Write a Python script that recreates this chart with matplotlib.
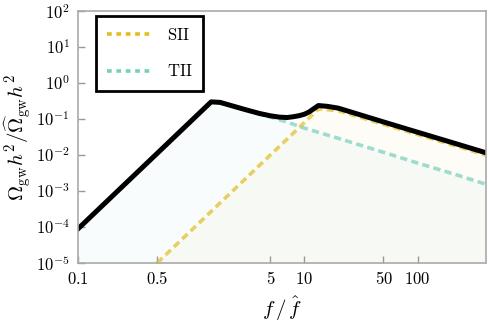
import matplotlib
matplotlib.use("Agg")
import matplotlib.pyplot as plt
from matplotlib.lines import Line2D

plt.rcParams['mathtext.fontset'] = 'cm'
plt.rcParams['font.family'] = 'serif'
plt.rcParams['font.serif'] = ['DejaVu Serif']

# values (f / f_hat, Omega h^2 normalised)
f_tii = [0.1, 0.5, 1.0, 1.5, 1.8, 3, 5, 7, 10, 20, 50, 100, 200, 400]
tii = [8.9e-5, 0.0111, 0.089, 0.30, 0.29, 0.181, 0.113, 0.083, 0.056,
       0.029, 0.0119, 0.006, 0.0031, 0.00155]

f_sii = [0.5, 1.0, 1.5, 3, 5, 7, 10, 13.3, 20, 50, 100, 200, 400]
sii = [1e-5, 8e-5, 2.7e-4, 2.16e-3, 0.01, 0.0274, 0.08, 0.19, 0.17,
       0.071, 0.0372, 0.0193, 0.01]

f_tot = [0.1, 0.5, 1.0, 1.5, 1.8, 3, 4, 5, 6, 7, 8, 9, 10, 11, 12, 13.3,
         16, 20, 50, 100, 200, 400]
tot = [8.9e-5, 0.0111, 0.089, 0.30, 0.29, 0.183, 0.143, 0.123, 0.113,
       0.11, 0.116, 0.124, 0.136, 0.157, 0.19, 0.237, 0.225, 0.2,
       0.083, 0.043, 0.0224, 0.0116]

xticks = [0.1, 0.5, 5, 10, 50, 100]
xtick_labels = ['$0.1$', '$0.5$', '$5$', '$10$', '$50$', '$100$']
yticks = [1e-5, 1e-4, 1e-3, 1e-2, 1e-1, 1e0, 1e1, 1e2]
ytick_labels = ['$10^{%d}$' % e for e in range(-5, 3)]

yellow = '#e3bd1f'
teal = '#78cfbd'

fig = plt.figure(figsize=(4.88, 3.27), dpi=100)
ax = fig.add_axes([0.16, 0.196, 0.836, 0.770])

ax.fill_between(f_tii, 1e-6, tii, color='#d9eef7', alpha=0.16, lw=0)
ax.fill_between(f_sii, 1e-6, sii, color='#f0e6b0', alpha=0.10, lw=0)

ax.plot(f_sii, sii, color=yellow, lw=2.6, alpha=0.7, dashes=(2, 1.2))
ax.plot(f_tii, tii, color=teal, lw=2.6, alpha=0.7, dashes=(2, 1.2))
ax.plot(f_tot, tot, color='black', lw=3.6, solid_joinstyle='round')

ax.set_xscale('log')
ax.set_yscale('log')
ax.set_xlim(0.1, 403)
ax.set_ylim(1e-5, 1e2)

ax.set_xticks(xticks)
ax.set_xticklabels(xtick_labels)
ax.set_yticks(yticks)
ax.set_yticklabels(ytick_labels)
ax.minorticks_off()
ax.tick_params(direction='in', length=5, width=1, color='#999999',
               labelsize=12, pad=6)
for s in ax.spines.values():
    s.set_color('#aaaaaa')
    s.set_linewidth(1.2)

ax.set_xlabel(r'$f\,/\,\hat{f}$', fontsize=15, labelpad=4)
ax.set_ylabel(r'$\Omega_{\rm gw}h^2/\widehat{\Omega}_{\rm gw}h^2$',
              fontsize=15, labelpad=2)

handles = [Line2D([], [], color=yellow, lw=2.6, dashes=(1.3, 1.3)),
           Line2D([], [], color=teal, lw=2.6, dashes=(1.3, 1.3))]
leg = ax.legend(handles, [r'$\mathrm{SII}$', r'$\mathrm{TII}$'],
                loc='upper left', fontsize=12, handlelength=2.8,
                labelspacing=1.15, borderpad=0.65, handletextpad=0.8,
                borderaxespad=0, fancybox=False, framealpha=1,
                edgecolor='black', bbox_to_anchor=(0.044, 0.979))
leg.get_frame().set_linewidth(2)

fig.savefig('out.png', dpi=100)
